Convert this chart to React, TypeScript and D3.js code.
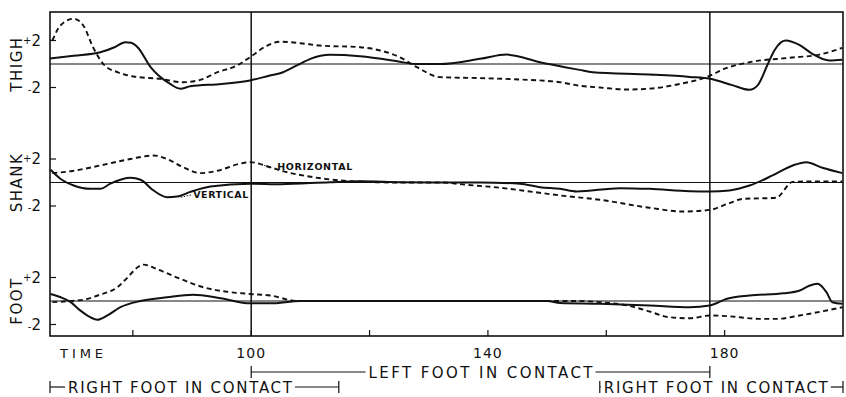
import React, { useEffect, useRef } from 'react';
import * as d3 from 'd3';

const width = 846;
const height = 397;
const frame = { left: 50, right: 843, top: 12, bottom: 336 };

// time axis
const timeDomain = [66, 200];
const contactTimes = [100, 177.5];
const tickTimes = [80, 100, 120, 140, 160, 180];
const labelTimes = [100, 140, 180];

const segments = ['THIGH', 'SHANK', 'FOOT'];

// [time, value]. dashed = horizontal, solid = vertical
const thighVertical = [
  [66, 0.47], [70, 0.7], [74.5, 1.0], [77, 1.45], [78.7, 1.85], [79.7, 1.8], [80.8, 1.43], [83, -0.27],
  [86.3, -1.7], [88, -2.1], [89.7, -1.9], [95, -1.7], [99.8, -1.4], [103, -1.0], [105.4, -0.7],
  [107.8, -0.1], [110, 0.44], [113.3, 0.78], [118.4, 0.66], [125.1, 0.2], [127.7, 0], [131.9, 0],
  [138.7, 0.44], [143.2, 0.8], [148.8, 0.15], [153, -0.27], [155.5, -0.5], [157.7, -0.7], [167.3, -0.9],
  [174.1, -1.1], [177.5, -1.25], [181.3, -1.8], [184.2, -2.2], [185.6, -1.8], [187.3, 0], [188.4, 1.15],
  [190.3, 2.0], [192.7, 1.6], [194.8, 0.87], [197.7, 0.3], [199.9, 0.36]
];
const thighHorizontal = [
  [66.4, 2.0], [67.8, 3.3], [70, 3.85], [71.6, 3.3], [73.3, 1.4], [75, 0], [77.4, -0.7], [80.1, -1.06],
  [84.6, -1.26], [88.5, -1.55], [91.4, -1.35], [94.3, -0.7], [97.6, -0.13], [99.8, 0.58], [102.7, 1.57],
  [104.9, 1.9], [108.3, 1.77], [111.6, 1.57], [118.4, 1.43], [121.8, 1.15], [125.1, 0.58], [128, -0.27],
  [131.9, -1.12], [138.7, -1.2], [145.4, -1.32], [152.2, -1.55], [155.5, -1.85], [158.9, -2.0],
  [163.5, -2.17], [167.3, -2.1], [172.4, -1.7], [175.8, -1.3], [177.5, -1.0], [180, -0.4], [184.2, 0.15],
  [191, 0.53], [196, 0.8], [199.9, 1.38]
];
const shankVertical = [
  [66.1, 1.08], [67.8, 0.3], [70, -0.26], [72.8, -0.54], [74.5, -0.54], [76.2, -0.1], [79.6, 0.4],
  [81.3, 0.23], [83.5, -0.68], [85.8, -1.25], [87.5, -1.2], [89.7, -0.8], [93.1, -0.34], [99.8, -0.1],
  [105, -0.15], [113.3, 0.03], [118.4, 0.1], [125.1, 0.03], [133.6, 0], [138.7, 0], [145.4, -0.1],
  [148.8, -0.4], [152.2, -0.54], [155, -0.77], [162.3, -0.48], [167.3, -0.54], [174.1, -0.74],
  [177.5, -0.77], [180.8, -0.68], [184.2, -0.26], [188.1, 0.6], [191.5, 1.45], [193.8, 1.73],
  [196.5, 1.25], [199.9, 0.8]
];
const shankHorizontal = [
  [66.4, 0.8], [69.5, 0.96], [74.5, 1.45], [79.6, 2.0], [83.5, 2.3], [85.8, 2.0], [88.5, 1.3], [91.4, 0.8],
  [94.3, 1.0], [98.1, 1.6], [99.8, 1.73], [103.2, 1.3], [105.5, 0.95], [110.5, 0.45], [117.2, 0.1],
  [125, 0], [132, 0], [136.5, -0.2], [142.1, -0.45], [147.6, -0.8], [152.2, -1.1], [158.9, -1.47],
  [167.3, -2.15], [172.9, -2.47], [177.5, -2.33], [180.8, -1.75], [183, -1.4], [188.7, -1.3],
  [191.5, 0.05], [196, 0.1], [199.9, 0.1]
];
const footVertical = [
  [66.1, 0.6], [67.8, 0.32], [69.5, -0.1], [71.1, -0.8], [72.8, -1.38], [74, -1.6], [75.7, -1.23],
  [77.9, -0.53], [81.3, 0], [85.8, 0.32], [90.2, 0.53], [94.8, 0.24], [99.8, -0.2], [103.2, -0.2],
  [108.3, 0], [150, 0], [152.2, -0.18], [158.9, -0.24], [167.3, -0.38], [174.1, -0.53], [177.5, -0.38],
  [180.4, 0.19], [184.2, 0.47], [190, 0.65], [192.7, 0.89], [194.3, 1.3], [195.7, 1.46], [197.2, 0.75],
  [198.2, -0.1], [199.9, -0.24]
];
const footHorizontal = [
  [66.4, -0.1], [69.5, 0], [71.6, 0.1], [74.5, 0.55], [77.4, 1.17], [79.1, 2.0], [80.8, 2.87], [81.8, 3.1],
  [84.1, 2.7], [88, 1.89], [91.9, 1.17], [96.5, 0.75], [99.8, 0.6], [103.2, 0.47], [107.8, 0], [155, 0],
  [158.9, -0.1], [163.5, -0.38], [166.8, -0.81], [170.7, -1.38], [174.1, -1.47], [177.5, -1.23],
  [180.8, -1.3], [185.9, -1.52], [188.8, -1.52], [192.7, -1.23], [199.9, -0.53]
];

const horizontalSeries = [thighHorizontal, shankHorizontal, footHorizontal];
const verticalSeries = [thighVertical, shankVertical, footVertical];

// foot contact phases
const contactLabels = ['RIGHT FOOT IN CONTACT', 'LEFT FOOT IN CONTACT', 'RIGHT FOOT IN CONTACT'];
const contactFrom = [66, 100, 158.9];
const contactTo = [114.8, 177.5, 200];
const contactRow = [1, 0, 1];

const font = '"DejaVu Sans", sans-serif';
const ink = '#111';

export default function App() {
  const ref = useRef<SVGSVGElement>(null);

  useEffect(() => {
    const svg = d3.select(ref.current);
    svg.selectAll('*').remove();

    const x = d3.scaleLinear().domain(timeDomain).range([frame.left, frame.right]);
    const zeroY = d3.scaleLinear().domain([0, 2]).range([64, 301]);
    const unit = 11.75;

    svg.append('rect').attr('width', width).attr('height', height).attr('fill', '#fff');

    segments.forEach((name, i) => {
      const zero = zeroY(i);
      const y = d3.scaleLinear().domain([-2, 2]).range([zero + 2 * unit, zero - 2 * unit]);
      const g = svg.append('g');

      g.append('line')
        .attr('x1', frame.left).attr('x2', frame.right)
        .attr('y1', y(0)).attr('y2', y(0))
        .attr('stroke', ink).attr('stroke-width', 1);

      [2, -2].forEach(v => {
        g.append('line')
          .attr('x1', frame.left).attr('x2', frame.left + 6)
          .attr('y1', y(v)).attr('y2', y(v))
          .attr('stroke', ink).attr('stroke-width', 1.2);
        const t = g.append('text')
          .attr('x', 41).attr('y', y(v) + 5)
          .attr('text-anchor', 'end')
          .attr('font-family', font).attr('font-size', 15).attr('fill', ink);
        t.append('tspan').attr('font-size', 10).attr('dy', v > 0 ? -2 : 0).text(v > 0 ? '+' : '-');
        t.append('tspan').attr('dy', v > 0 ? 2 : 0).text('2');
      });

      g.append('text')
        .attr('transform', `translate(17,${zero}) rotate(-90)`)
        .attr('text-anchor', 'middle').attr('dominant-baseline', 'central')
        .attr('font-family', font).attr('font-size', 15).attr('letter-spacing', 1.5)
        .attr('fill', ink).text(name);

      const line = d3.line<number[]>()
        .x(d => x(d[0])).y(d => y(d[1]))
        .curve(d3.curveMonotoneX);

      g.append('path').attr('d', line(horizontalSeries[i]))
        .attr('fill', 'none').attr('stroke', ink).attr('stroke-width', 1.9)
        .attr('stroke-dasharray', '5,3.5');
      g.append('path').attr('d', line(verticalSeries[i]))
        .attr('fill', 'none').attr('stroke', ink).attr('stroke-width', 2);

      if (name === 'SHANK') {
        const notes = [
          { text: 'HORIZONTAL', t: 104.4, v: 1.06, len: 75, from: [101.2, 1.6], to: [103.6, 1.25] },
          { text: 'VERTICAL', t: 90.2, v: -1.32, len: 55, from: [88.1, -1.25], to: [89.9, -1.05] }
        ];
        notes.forEach(n => {
          g.append('text')
            .attr('x', x(n.t)).attr('y', y(n.v))
            .attr('font-family', font).attr('font-size', 9.5).attr('font-weight', 'bold')
            .attr('textLength', n.len).attr('lengthAdjust', 'spacing')
            .attr('fill', ink).text(n.text);
          g.append('line')
            .attr('x1', x(n.from[0])).attr('y1', y(n.from[1]))
            .attr('x2', x(n.to[0])).attr('y2', y(n.to[1]))
            .attr('stroke', ink).attr('stroke-width', 1).attr('stroke-dasharray', '1.5,1.5');
        });
      }
    });

    // contact lines and frame
    contactTimes.forEach(t => {
      svg.append('line')
        .attr('x1', x(t)).attr('x2', x(t))
        .attr('y1', frame.top).attr('y2', frame.bottom)
        .attr('stroke', ink).attr('stroke-width', 1.5);
    });
    svg.append('rect')
      .attr('x', frame.left).attr('y', frame.top)
      .attr('width', frame.right - frame.left).attr('height', frame.bottom - frame.top)
      .attr('fill', 'none').attr('stroke', ink).attr('stroke-width', 1.6);

    // time ticks point up into the plot
    svg.selectAll('.tick').data(tickTimes).enter().append('line')
      .attr('x1', d => x(d)).attr('x2', d => x(d))
      .attr('y1', frame.bottom).attr('y2', frame.bottom - 6)
      .attr('stroke', ink).attr('stroke-width', 1.2);
    svg.selectAll('.tlabel').data(labelTimes).enter().append('text')
      .attr('x', d => x(d)).attr('y', 358)
      .attr('text-anchor', 'middle').attr('font-family', font).attr('font-size', 14)
      .attr('letter-spacing', 1).attr('fill', ink).text(d => d);
    svg.append('text')
      .attr('x', 60).attr('y', 358)
      .attr('font-family', font).attr('font-size', 13)
      .attr('textLength', 43).attr('lengthAdjust', 'spacing')
      .attr('fill', ink).text('TIME');

    // contact phase brackets
    const textLen = 224;
    contactLabels.forEach((label, i) => {
      const x0 = x(contactFrom[i]);
      const x1 = Math.min(x(contactTo[i]), frame.right);
      const yy = contactRow[i] === 0 ? 372 : 387;
      let tx;
      if (i === 1) tx = (x0 + x1) / 2 - textLen / 2;
      else if (i === 0) tx = x0 + 18;
      else tx = x0 + 4;
      const bar = svg.append('g').attr('stroke', ink).attr('stroke-width', 1.2);
      bar.append('line').attr('x1', x0).attr('x2', x0).attr('y1', yy - 6).attr('y2', yy + 6);
      bar.append('line').attr('x1', x1).attr('x2', x1).attr('y1', yy - 6).attr('y2', yy + 6);
      if (tx - 3 > x0) bar.append('line').attr('x1', x0).attr('x2', tx - 3).attr('y1', yy).attr('y2', yy);
      bar.append('line').attr('x1', tx + textLen + 3).attr('x2', x1).attr('y1', yy).attr('y2', yy);
      svg.append('text')
        .attr('x', tx).attr('y', yy + 6)
        .attr('font-family', font).attr('font-size', 15)
        .attr('textLength', textLen).attr('lengthAdjust', 'spacing')
        .attr('fill', ink).text(label);
    });
  }, []);

  return (
    <svg ref={ref} width={width} height={height}
      style={{ position: 'absolute', left: 0, top: 0, display: 'block' }} />
  );
}
